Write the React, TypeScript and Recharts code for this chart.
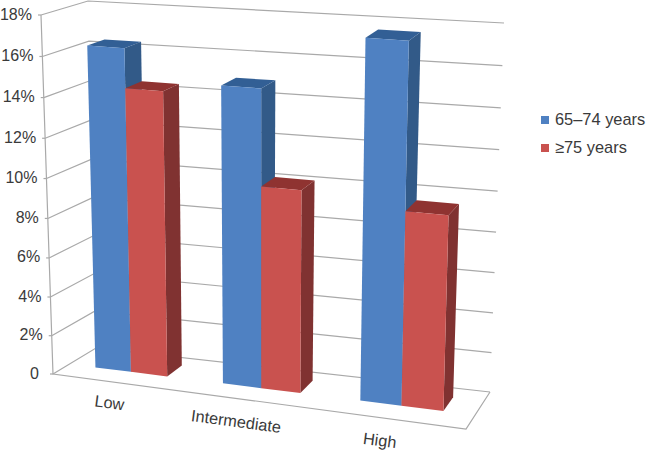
import { BarChart, Bar, XAxis, YAxis, CartesianGrid, Legend } from "recharts";

const categories = ["Low", "Intermediate", "High"];
const youngValues = [16.35, 14.9, 17.65];
const olderValues = [14.4, 10.15, 9.6];
const yTicks = [0, 2, 4, 6, 8, 10, 12, 14, 16, 18];

const data = categories.map((name, i) => ({
  name,
  young: youngValues[i],
  older: olderValues[i],
}));

const WIDTH = 646;
const HEIGHT = 450;
// flat plot rectangle, the projection below maps it onto the 3D box
const PLOT = { left: 40, top: 20, width: 566, height: 390 };
const FONT = "'Liberation Sans', Arial, sans-serif";
const TEXT = "#3a3a3a";
const GRID = "#a9a9a9";

type Pt = [number, number];

// box corners as they appear in the picture, f = front, b = back
const FL0: Pt = [53, 374];
const FR0: Pt = [466, 429];
const BL0: Pt = [96, 348];
const BR0: Pt = [490, 392];
const FL1: Pt = [41, 15];
const FR1: Pt = [476, 48];
const BL1: Pt = [88, 1];
const BR1: Pt = [504, 23];

// category label nudges along the slanted front edge
const LABEL_SHIFT: Pt[] = [
  [-6, 20],
  [-12, 21],
  [-11, 21],
];

const mix = (a: Pt, b: Pt, t: number): Pt => [a[0] + (b[0] - a[0]) * t, a[1] + (b[1] - a[1]) * t];

function project(u: number, v: number, d: number): Pt {
  // slight foreshortening, the right side is nearer to the camera
  const uw = u - 0.11 * u * (1 - u);
  const vw = v - 0.045 * v * (1 - v);
  const front = mix(mix(FL0, FR0, uw), mix(FL1, FR1, uw), vw);
  const back = mix(mix(BL0, BR0, uw), mix(BL1, BR1, uw), vw);
  return mix(front, back, d);
}

const toU = (x: number) => (x - PLOT.left) / PLOT.width;
const toV = (y: number) => (PLOT.top + PLOT.height - y) / PLOT.height;
const pts = (list: Pt[]) => list.map((p) => p.join(",")).join(" ");

const BAR_FRONT = 0.38;
const BAR_BACK = 0.76;

function Box3D(props: any) {
  const { x, y, width, height, fill, sideFill, topFill } = props;
  const u0 = toU(x);
  const u1 = toU(x + width);
  const v0 = toV(y + height);
  const v1 = toV(y);
  const p = (u: number, v: number, d: number) => project(u, v, d);
  return (
    <g>
      <polygon
        points={pts([p(u1, v0, BAR_FRONT), p(u1, v0, BAR_BACK), p(u1, v1, BAR_BACK), p(u1, v1, BAR_FRONT)])}
        fill={sideFill}
      />
      <polygon
        points={pts([p(u0, v1, BAR_FRONT), p(u1, v1, BAR_FRONT), p(u1, v1, BAR_BACK), p(u0, v1, BAR_BACK)])}
        fill={topFill}
      />
      <polygon
        points={pts([p(u0, v0, BAR_FRONT), p(u1, v0, BAR_FRONT), p(u1, v1, BAR_FRONT), p(u0, v1, BAR_FRONT)])}
        fill={fill}
      />
    </g>
  );
}

function GridLine(props: any) {
  const v = toV(props.y1);
  const line = (
    <polyline
      points={pts([project(0, v, 0), project(0, v, 1), project(1, v, 1)])}
      fill="none"
      stroke={GRID}
      strokeWidth={1.2}
    />
  );
  if (v > 0.001) return <g key={props.key}>{line}</g>;
  return (
    <g key={props.key}>
      {line}
      <polyline points={pts([FL1, FL0, FR0, BR0])} fill="none" stroke={GRID} strokeWidth={1.2} />
    </g>
  );
}

function YTick(props: any) {
  const { y, payload } = props;
  const [px, py] = project(0, toV(y), 0);
  const value = payload.value;
  return (
    <g>
      <line x1={px - 3} y1={py} x2={px} y2={py} stroke={GRID} strokeWidth={1.2} />
      <text
        x={value === 0 ? px - 14 : px - 9}
        y={py + 4.5}
        textAnchor="end"
        fontFamily={FONT}
        fontSize={16}
        fill={TEXT}
      >
        {value === 0 ? "0" : `${value}%`}
      </text>
    </g>
  );
}

function XTick(props: any) {
  const { x, payload, index } = props;
  const [px, py] = project(toU(x), 0, 0);
  const cx = px + LABEL_SHIFT[index][0];
  const cy = py + LABEL_SHIFT[index][1];
  return (
    <text
      x={cx}
      y={cy}
      textAnchor="middle"
      dominantBaseline="central"
      transform={`rotate(7.6 ${cx} ${cy})`}
      fontFamily={FONT}
      fontSize={16.3}
      fill={TEXT}
    >
      {payload.value}
    </text>
  );
}

function LegendBox(props: any) {
  return (
    <div style={{ fontFamily: FONT, fontSize: 16.4, color: TEXT }}>
      {props.payload.map((item: any) => (
        <div key={item.value} style={{ display: "flex", alignItems: "center", height: 28 }}>
          <span
            style={{ width: 8, height: 8, background: item.color, marginRight: 6, marginTop: 2, flex: "none" }}
          />
          <span style={{ whiteSpace: "nowrap" }}>{item.value}</span>
        </div>
      ))}
    </div>
  );
}

export default function App() {
  return (
    <div style={{ position: "fixed", left: 0, top: 0, width: WIDTH, height: HEIGHT, background: "#fff" }}>
      <BarChart
        width={WIDTH}
        height={HEIGHT}
        data={data}
        margin={{
          top: PLOT.top,
          right: WIDTH - PLOT.left - PLOT.width,
          bottom: 0,
          left: 0,
        }}
        barCategoryGap="21.5%"
        barGap={0}
      >
        <CartesianGrid vertical={false} horizontal={GridLine as any} />
        <XAxis
          dataKey="name"
          height={HEIGHT - PLOT.top - PLOT.height}
          axisLine={false}
          tickLine={false}
          interval={0}
          tick={XTick as any}
        />
        <YAxis
          width={PLOT.left}
          domain={[0, 18]}
          ticks={yTicks}
          interval={0}
          axisLine={false}
          tickLine={false}
          tick={YTick as any}
        />
        <Legend
          layout="vertical"
          align="center"
          verticalAlign="middle"
          content={LegendBox as any}
          wrapperStyle={{ left: 541, top: 105, width: 105, height: 56 }}
        />
        <Bar
          dataKey="young"
          name="65–74 years"
          fill="#4f81c2"
          isAnimationActive={false}
          shape={(p: any) => <Box3D {...p} sideFill="#325a88" topFill="#325f95" />}
        />
        <Bar
          dataKey="older"
          name="≥75 years"
          fill="#c9524f"
          isAnimationActive={false}
          shape={(p: any) => <Box3D {...p} sideFill="#803231" topFill="#8f3331" />}
        />
      </BarChart>
    </div>
  );
}
